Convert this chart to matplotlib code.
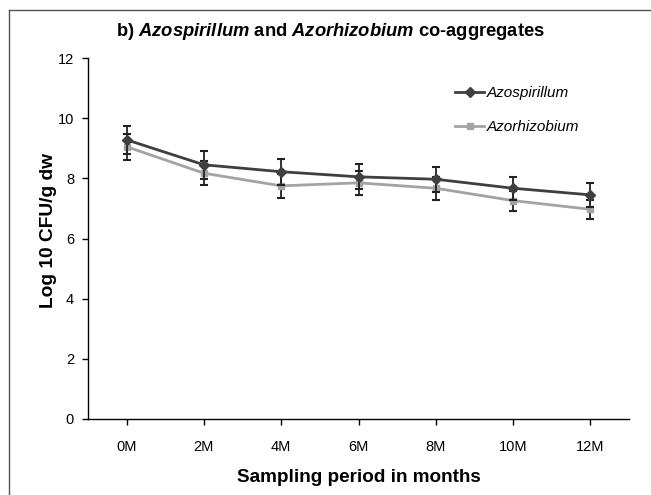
import numpy as np
import matplotlib
matplotlib.use("Agg")
import matplotlib.pyplot as plt
from matplotlib.lines import Line2D

plt.rcParams['font.family'] = ['Liberation Sans', 'DejaVu Sans']
plt.rcParams['mathtext.fontset'] = 'custom'
plt.rcParams['mathtext.it'] = 'Liberation Sans:italic:bold'
plt.rcParams['mathtext.rm'] = 'Liberation Sans:bold'

# data
months = ['0M', '2M', '4M', '6M', '8M', '10M', '12M']
azospirillum = [9.28, 8.45, 8.22, 8.05, 7.97, 7.67, 7.45]
azospirillum_err = [0.47, 0.47, 0.43, 0.42, 0.41, 0.39, 0.39]
azorhizobium = [9.05, 8.17, 7.75, 7.85, 7.67, 7.26, 6.97]
azorhizobium_err = [0.44, 0.40, 0.40, 0.40, 0.38, 0.33, 0.32]

dark = '#3f3f3f'
light = '#a3a3a3'

fig = plt.figure(figsize=(6.51, 4.95), dpi=100)
ax = fig.add_axes([88 / 651, 1 - 419 / 495, (629 - 88) / 651, (419 - 58) / 495])

x = np.arange(len(months))

ax.errorbar(x, azospirillum, yerr=azospirillum_err, color=dark, ecolor='#222222',
            elinewidth=1.3, capsize=2.8, capthick=1.5, lw=2.0, marker='D',
            markersize=5, zorder=4)
ax.errorbar(x, azorhizobium, yerr=azorhizobium_err, color=light, ecolor='#222222',
            elinewidth=1.3, capsize=2.8, capthick=1.5, lw=2.0, marker='s',
            markersize=5, zorder=3)

ax.set_xlim(-0.5, len(months) - 0.5)
ax.set_ylim(0, 12)
ax.set_xticks(x)
ax.set_xticklabels(months, fontsize=10.5)
ax.set_yticks(np.arange(0, 13, 2))
ax.tick_params(axis='y', labelsize=10.5, direction='out', length=4, width=1, pad=6)
ax.tick_params(axis='x', direction='out', length=4, width=1, pad=11)

for side in ['top', 'right']:
    ax.spines[side].set_visible(False)
for side in ['left', 'bottom']:
    ax.spines[side].set_linewidth(1.0)

ax.set_xlabel('Sampling period in months', fontsize=13.6, fontweight='bold', labelpad=11)
ax.set_ylabel('Log 10 CFU/g dw', fontsize=13.8, fontweight='bold')
ax.yaxis.set_label_coords(-0.057, 0.5235)

fig.text(331 / 651, 1 - 31 / 495,
         r'b) $\mathit{Azospirillum}$ and $\mathit{Azorhizobium}$ co-aggregates',
         ha='center', va='center', fontsize=13.2, fontweight='bold')

handles = [
    Line2D([], [], color=dark, lw=2.0, marker='D', markersize=5),
    Line2D([], [], color=light, lw=2.0, marker='s', markersize=5),
]
ax.legend(handles, ['Azospirillum', 'Azorhizobium'], loc='upper left',
          bbox_to_anchor=(449 / 651, 1 - 80 / 495), bbox_transform=fig.transFigure,
          borderaxespad=0, frameon=False, prop={'style': 'italic', 'size': 11},
          handlelength=1.9, handletextpad=0.15, labelspacing=1.3)

# outer frame (left and top edges)
fig.add_artist(Line2D([9 / 651, 9 / 651], [0, 1 - 10 / 495], color='#555555', lw=1.0))
fig.add_artist(Line2D([9 / 651, 1], [1 - 10 / 495, 1 - 10 / 495], color='#555555', lw=1.0))

fig.savefig('out.png', dpi=100, facecolor='white')
